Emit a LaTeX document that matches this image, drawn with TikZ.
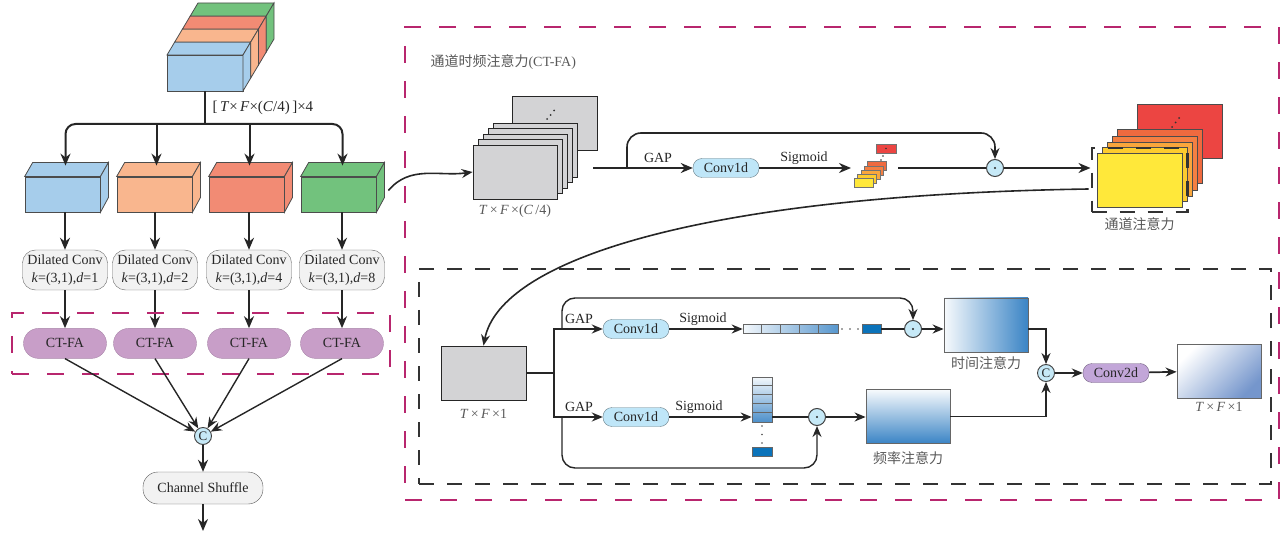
\documentclass[tikz,border=0pt]{standalone}
\usepackage{fontspec}
\setmainfont{Liberation Serif}
\newfontfamily\cjk{Noto Sans CJK SC}
\usepackage{tikz}
\usetikzlibrary{positioning,arrows.meta,calc,fit,backgrounds}
\usepackage{xcolor}

\definecolor{cubeblue}{HTML}{A6CDEB}
\definecolor{cubeorange}{HTML}{F9B68E}
\definecolor{cubered}{HTML}{F28B74}
\definecolor{cubegreen}{HTML}{72C27D}
\definecolor{ctpurple}{HTML}{C89EC8}
\definecolor{convblue}{HTML}{BFE6F8}
\definecolor{catblue}{HTML}{C6E9F7}
\definecolor{magframe}{HTML}{B8266E}
\definecolor{mapgray}{HTML}{D3D3D5}
\definecolor{attblue}{HTML}{3A84C5}
\definecolor{cellblue}{HTML}{0B73BA}
\definecolor{outblue}{HTML}{7596CC}
\definecolor{lyellow}{HTML}{FFE83A}
\definecolor{lgold}{HTML}{FDCB2E}
\definecolor{lorange}{HTML}{F9A63C}
\definecolor{lorangered}{HTML}{F47F42}
\definecolor{lredorange}{HTML}{EF6A3F}
\definecolor{lred}{HTML}{EC4542}
\definecolor{c2dpurple}{HTML}{C2A6D8}

\begin{document}
\begin{tikzpicture}[x=1pt, y=-1pt,
  every node/.style={font=\fontsize{14}{17}\selectfont, text=black!85},
  face/.style={draw=black!70, line width=0.8pt},
  cube/.style={face, minimum width=75pt, minimum height=35pt, inner sep=0pt},
  dil/.style={draw=black!60, fill=black!5, rounded corners=13pt, align=center,
              minimum width=85pt, minimum height=40pt, inner sep=0pt,
              font=\fontsize{14}{18}\selectfont},
  ctfa/.style={draw=ctpurple!85!black, fill=ctpurple, rounded corners=15pt,
               minimum width=83pt, minimum height=30pt, inner sep=0pt},
  pill/.style={draw=black!65, fill=black!5, rounded corners=15pt,
               minimum width=120pt, minimum height=32pt, inner sep=0pt},
  conv/.style={draw=convblue!55!black, fill=convblue, rounded corners=9pt,
               minimum width=66pt, minimum height=19pt, inner sep=0pt},
  cat/.style={circle, draw=black!75, fill=catblue, minimum size=17pt, inner sep=0pt,
              line width=0.9pt, font=\fontsize{13}{13}\selectfont},
  odot/.style={circle, draw=black!75, fill=catblue, minimum size=17pt, inner sep=0pt,
               line width=1pt},
  fmap/.style={draw=black!85, fill=mapgray, minimum width=84pt, minimum height=54pt,
               inner sep=0pt, line width=0.8pt},
  lmap/.style={draw=black!70, minimum width=85pt, minimum height=54pt, inner sep=0pt,
               line width=0.8pt},
  amap/.style={draw=black!60, minimum width=84pt, minimum height=54pt, inner sep=0pt,
               line width=0.8pt},
  cell/.style={draw=black!60, inner sep=0pt, line width=0.6pt},
  lbl/.style={text=black!65},
  arr/.style={-{Stealth[length=12pt,width=10pt]}, line width=2pt, color=black!85},
  tarr/.style={-{Stealth[length=11pt,width=9pt]}, line width=1.4pt, color=black!85},
  wire/.style={line width=2pt, color=black!85},
  twire/.style={line width=1.4pt, color=black!85},
  magbox/.style={draw=magframe, line width=2.5pt, dash pattern=on 17pt off 18pt},
  blkbox/.style={draw=black!80, line width=2.2pt, dash pattern=on 15pt off 13pt},
]
\useasboundingbox (0,0) rectangle (1284,534);

% ---- frames ----
\node[magbox, minimum width=874pt, minimum height=473pt, inner sep=0pt] (capanel) at (842,263.5) {};
\node[blkbox, minimum width=852pt, minimum height=215pt, inner sep=0pt] (sapanel) at (845,376.5) {};
\node[lbl, anchor=west] (cattl) at (427,62) {{\cjk 通道时频注意力}(CT-FA)};

% ---- input feature, four channel groups stacked ----
\node[cube, fill=cubeblue, minimum width=76pt, minimum height=36pt] (inp) at (205,73) {};
\filldraw[face, fill=cubeblue]   (167,55) -- (243,55) -- (250.75,42) -- (174.75,42) -- cycle;
\filldraw[face, fill=cubeorange] (174.75,42) -- (250.75,42) -- (258.5,29) -- (182.5,29) -- cycle;
\filldraw[face, fill=cubered]    (182.5,29) -- (258.5,29) -- (266.25,16) -- (190.25,16) -- cycle;
\filldraw[face, fill=cubegreen]  (190.25,16) -- (266.25,16) -- (274,3) -- (198,3) -- cycle;
\filldraw[face, fill=cubeblue]   (243,55) -- (250.75,42) -- (250.75,78) -- (243,91) -- cycle;
\filldraw[face, fill=cubeorange] (250.75,42) -- (258.5,29) -- (258.5,65) -- (250.75,78) -- cycle;
\filldraw[face, fill=cubered]    (258.5,29) -- (266.25,16) -- (266.25,52) -- (258.5,65) -- cycle;
\filldraw[face, fill=cubegreen]  (266.25,16) -- (274,3) -- (274,39) -- (266.25,52) -- cycle;
\coordinate (split) at (205,124);
\draw[wire] (inp.south) -- (split);
\node[anchor=west, font=\fontsize{15}{17}\selectfont] (dimlbl) at (209,108) {[\,\textit{T}×\,\textit{F}×(\textit{C}/4)\,]×4};

% ---- split groups ----
\node[cube, fill=cubeblue]   (g1) at (62.5,194.5) {};
\node[cube, fill=cubeorange] (g2) at (154.5,194.5) {};
\node[cube, fill=cubered]    (g3) at (246.5,194.5) {};
\node[cube, fill=cubegreen]  (g4) at (338.5,194.5) {};
\filldraw[face, fill=cubeblue] (g1.north west) -- (g1.north east) -- ++(8,-14) -- ($(g1.north west)+(8,-14)$) -- cycle;
\filldraw[face, fill=cubeblue] (g1.north east) -- ++(8,-14) -- ++(0,35) -- (g1.south east) -- cycle;
\filldraw[face, fill=cubeorange] (g2.north west) -- (g2.north east) -- ++(8,-14) -- ($(g2.north west)+(8,-14)$) -- cycle;
\filldraw[face, fill=cubeorange] (g2.north east) -- ++(8,-14) -- ++(0,35) -- (g2.south east) -- cycle;
\filldraw[face, fill=cubered] (g3.north west) -- (g3.north east) -- ++(8,-14) -- ($(g3.north west)+(8,-14)$) -- cycle;
\filldraw[face, fill=cubered] (g3.north east) -- ++(8,-14) -- ++(0,35) -- (g3.south east) -- cycle;
\filldraw[face, fill=cubegreen] (g4.north west) -- (g4.north east) -- ++(8,-14) -- ($(g4.north west)+(8,-14)$) -- cycle;
\filldraw[face, fill=cubegreen] (g4.north east) -- ++(8,-14) -- ++(0,35) -- (g4.south east) -- cycle;
\coordinate (g1in) at ($(g1.north)+(3,-11)$);
\coordinate (g2in) at ($(g2.north)+(2,-11)$);
\coordinate (g3in) at ($(g3.north)+(3,-11)$);
\coordinate (g4in) at ($(g4.north)+(4,-11)$);
\draw[arr, rounded corners=10pt] (split) -| (g1in);
\draw[arr, rounded corners=10pt] (split) -| (g4in);
\draw[arr] (g2in |- split) -- (g2in);
\draw[arr] (g3in |- split) -- (g3in);

% ---- dilated convs and CT-FA blocks ----
\node[dil] (d1) at (65,270)  {Dilated Conv\\\textit{k}=(3,1),\textit{d}=1};
\node[dil] (d2) at (155,270) {Dilated Conv\\\textit{k}=(3,1),\textit{d}=2};
\node[dil] (d3) at (249,270) {Dilated Conv\\\textit{k}=(3,1),\textit{d}=4};
\node[dil] (d4) at (342,270) {Dilated Conv\\\textit{k}=(3,1),\textit{d}=8};
\draw[arr] (d1.north |- g1.south) -- (d1.north);
\draw[arr] (d2.north |- g2.south) -- (d2.north);
\draw[arr] (d3.north |- g3.south) -- (d3.north);
\draw[arr] (d4.north |- g4.south) -- (d4.north);
\node[ctfa, below=38pt of d1] (f1) {CT-FA};
\node[ctfa, below=38pt of d2] (f2) {CT-FA};
\node[ctfa, below=38pt of d3] (f3) {CT-FA};
\node[ctfa, below=38pt of d4] (f4) {CT-FA};
\draw[arr] (d1) -- (f1);
\draw[arr] (d2) -- (f2);
\draw[arr] (d3) -- (f3);
\draw[arr] (d4) -- (f4);
\node[magbox, minimum width=378pt, minimum height=61pt, inner sep=0pt] (ctbox) at (201,343.5) {};

% ---- concat and shuffle ----
\node[cat] (cc) at (203,436) {C};
\draw[tarr] (f1.south) -- (cc);
\draw[tarr] (f2.south) -- (cc);
\draw[tarr] (f3.south) -- (cc);
\draw[tarr] (f4.south) -- (cc);
\node[pill] (shuf) at (203,488) {Channel Shuffle};
\draw[arr] (cc) -- (shuf);
\coordinate (outp) at (203,531);
\draw[arr] (shuf.south) -- (outp);

% ---- channel attention branch ----
\coordinate (g4out) at ($(g4.east)+(12,-4)$);
\node[fmap, minimum width=85pt] (sb) at (554.5,123) {};
\fill[black!80] (547,119) circle (1pt) (550.5,115) circle (1pt) (554,110.5) circle (1pt);
\node[fmap] (s4) at (535,150) {};
\node[fmap] (s3) at (530,155.5) {};
\node[fmap] (s2) at (525,161) {};
\node[fmap] (s1) at (520,166.5) {};
\node[fmap] (s0) at (515,172) {};
\node[lbl, below=2pt of s0] (sdim) {\textit{T}\,×\,\textit{F}\,×(\textit{C}\,/4)};
\draw[tarr, line width=1.6pt] (g4out) to[out=50, in=188] (s0.west);

\coordinate (sout) at (593,168);
\coordinate (sk1) at (627,168);
\node[conv] (c1) at (726,168) {Conv1d};
\node (gap1) at (658,158) {GAP};
\node (sig1) at (804,158) {Sigmoid};
\draw[arr] (sout) -- (c1.west);
\coordinate (vin) at (851,168);
\draw[arr] (c1.east) -- (vin);
% channel weights
\filldraw[draw=black!55, fill=lred] (876,144) rectangle ++(20,9);
\fill[black!80] (886,148.5) circle (0.9pt) (883,156) circle (0.8pt) (881,160) circle (0.8pt);
\filldraw[draw=black!55, fill=lredorange] (867,161) rectangle ++(19,9);
\filldraw[draw=black!55, fill=lorangered] (864,166) rectangle ++(19,9);
\filldraw[draw=black!55, fill=lorange] (861,170) rectangle ++(19,9);
\filldraw[draw=black!55, fill=lgold] (857,174) rectangle ++(19,9);
\filldraw[draw=black!55, fill=lyellow] (854,178) rectangle ++(19,9);
\coordinate (vout) at (898,168);
\node[odot] (m1) at (995,168) {};
\fill[black!85] (m1.center) circle (1.1pt);
\draw[wire] (vout) -- (m1);
\draw[tarr, line width=1.6pt, rounded corners=14pt] (sk1) -- ++(0,-35) -| (m1.north);

% channel attention output
\node[lmap, fill=lred] (lb) at (1179.5,131) {};
\fill[black!80] (1172,127) circle (1pt) (1175.5,122.5) circle (1pt) (1179,118) circle (1pt);
\node[lmap, fill=lredorange] (l4) at (1159.5,156) {};
\node[lmap, fill=lorangered] (l3) at (1154.5,163) {};
\node[lmap, fill=lorange] (l2) at (1150,169) {};
\node[lmap, fill=lgold] (l1) at (1144.5,174.5) {};
\node[lmap, fill=lyellow] (l0) at (1139.5,180) {};
\node[blkbox, fit=(l0), inner xsep=5pt, inner ysep=4.5pt] (cadash) {};
\node[lbl, below=1pt of cadash] (calbl) {\cjk 通道注意力};
\draw[arr] (m1) -- (m1 -| cadash.west);
\coordinate (caout) at ($(cadash.west)+(-2,9)$);

% ---- spatial (time / frequency) attention ----
\node[fmap, minimum width=85pt] (tf1) at (483.5,373) {};
\node[lbl, below=5pt of tf1] (tf1lbl) {\textit{T}\,×\,\textit{F}\,×1};
\draw[tarr, line width=1.6pt] (caout) .. controls (700,195) and (500,260) .. (tf1.north);
\coordinate (sp) at (554,373);
\draw[wire] (tf1.east) -- (sp);
\node[conv] (c2) at (636,329) {Conv1d};
\node[conv] (c3) at (636,417) {Conv1d};
\draw[tarr, line width=1.7pt] (sp) |- (c2.west);
\draw[tarr, line width=1.7pt] (sp) |- (c3.west);
\node (gap2) at (579,319) {GAP};
\node (gap3) at (579,407) {GAP};
\node (sig2) at (703,319) {Sigmoid};
\node (sig3) at (699,407) {Sigmoid};
\coordinate (sk2) at (562,329);
\coordinate (sk3) at (562,417);

% time weights
\node[cell, left color=attblue!6, right color=attblue!85, minimum width=95pt, minimum height=9pt] (tv) at (790.5,329) {};
\draw[black!60, line width=0.6pt] ($(tv.north west)+(19,0)$) -- ($(tv.south west)+(19,0)$);
\draw[black!60, line width=0.6pt] ($(tv.north west)+(38,0)$) -- ($(tv.south west)+(38,0)$);
\draw[black!60, line width=0.6pt] ($(tv.north west)+(57,0)$) -- ($(tv.south west)+(57,0)$);
\draw[black!60, line width=0.6pt] ($(tv.north west)+(76,0)$) -- ($(tv.south west)+(76,0)$);
\fill[black!70] (842,329) circle (0.9pt) (850,329) circle (0.9pt) (858,329) circle (0.9pt);
\node[cell, fill=cellblue, minimum width=19pt, minimum height=9pt] (tvl) at (871.5,329) {};
\node[odot] (m2) at (913,329) {};
\fill[black!85] (m2.center) circle (1.1pt);
\node[amap, left color=attblue!4, right color=attblue] (ta) at (986,325) {};
\node[lbl, below=1pt of ta] (talbl) {\cjk 时间注意力};
\draw[tarr, line width=1.7pt] (c2.east) -- (tv.west);
\draw[twire, line width=1.7pt] (tvl.east) -- (m2);
\draw[tarr, line width=1.7pt] (m2) -- (m2 -| ta.west);
\draw[tarr, rounded corners=13pt] (sk2) -- ++(0,-31) -| (m2.north);

% frequency weights
\node[cell, top color=attblue!6, bottom color=attblue!90, minimum width=20pt, minimum height=45pt] (fv) at (762,399.5) {};
\draw[black!60, line width=0.6pt] ($(fv.north west)+(0,9)$) -- ($(fv.north east)+(0,9)$);
\draw[black!60, line width=0.6pt] ($(fv.north west)+(0,18)$) -- ($(fv.north east)+(0,18)$);
\draw[black!60, line width=0.6pt] ($(fv.north west)+(0,27)$) -- ($(fv.north east)+(0,27)$);
\draw[black!60, line width=0.6pt] ($(fv.north west)+(0,36)$) -- ($(fv.north east)+(0,36)$);
\fill[black!70] (762,426) circle (0.9pt) (762,434.5) circle (0.9pt) (762,443) circle (0.9pt);
\node[cell, fill=cellblue, minimum width=20pt, minimum height=9pt] (fvl) at (762,451.5) {};
\node[odot] (m3) at (817,417) {};
\fill[black!85] (m3.center) circle (1.1pt);
\node[amap, top color=attblue!4, bottom color=attblue] (fa) at (908,416.5) {};
\node[lbl, below=4pt of fa] (falbl) {\cjk 频率注意力};
\draw[tarr, line width=1.7pt] (c3.east) -- (c3.east -| fv.west);
\draw[twire, line width=1.7pt] (m3 -| fv.east) -- (m3);
\draw[tarr, line width=1.7pt] (m3) -- (m3 -| fa.west);
\draw[tarr, rounded corners=13pt] (sk3) -- ++(0,51) -| (m3.south);

% ---- fuse ----
\node[cat] (cc2) at (1046,373) {C};
\node[conv, draw=c2dpurple!60!black, fill=c2dpurple] (c2d) at (1116,373) {Conv2d};
\node[amap, top color=white, bottom color=outblue, shading angle=45] (ot) at (1219,371) {};
\node[lbl, below=0pt of ot] (otlbl) {\textit{T}\,×\,\textit{F}\,×1};
\draw[tarr] (ta.east |- m2) -| (cc2.north);
\draw[tarr] (fa.east) -| (cc2.south);
\draw[tarr, line width=1.7pt] (cc2) -- (c2d);
\draw[tarr, line width=1.7pt] (c2d) -- (ot);
\end{tikzpicture}
\end{document}
